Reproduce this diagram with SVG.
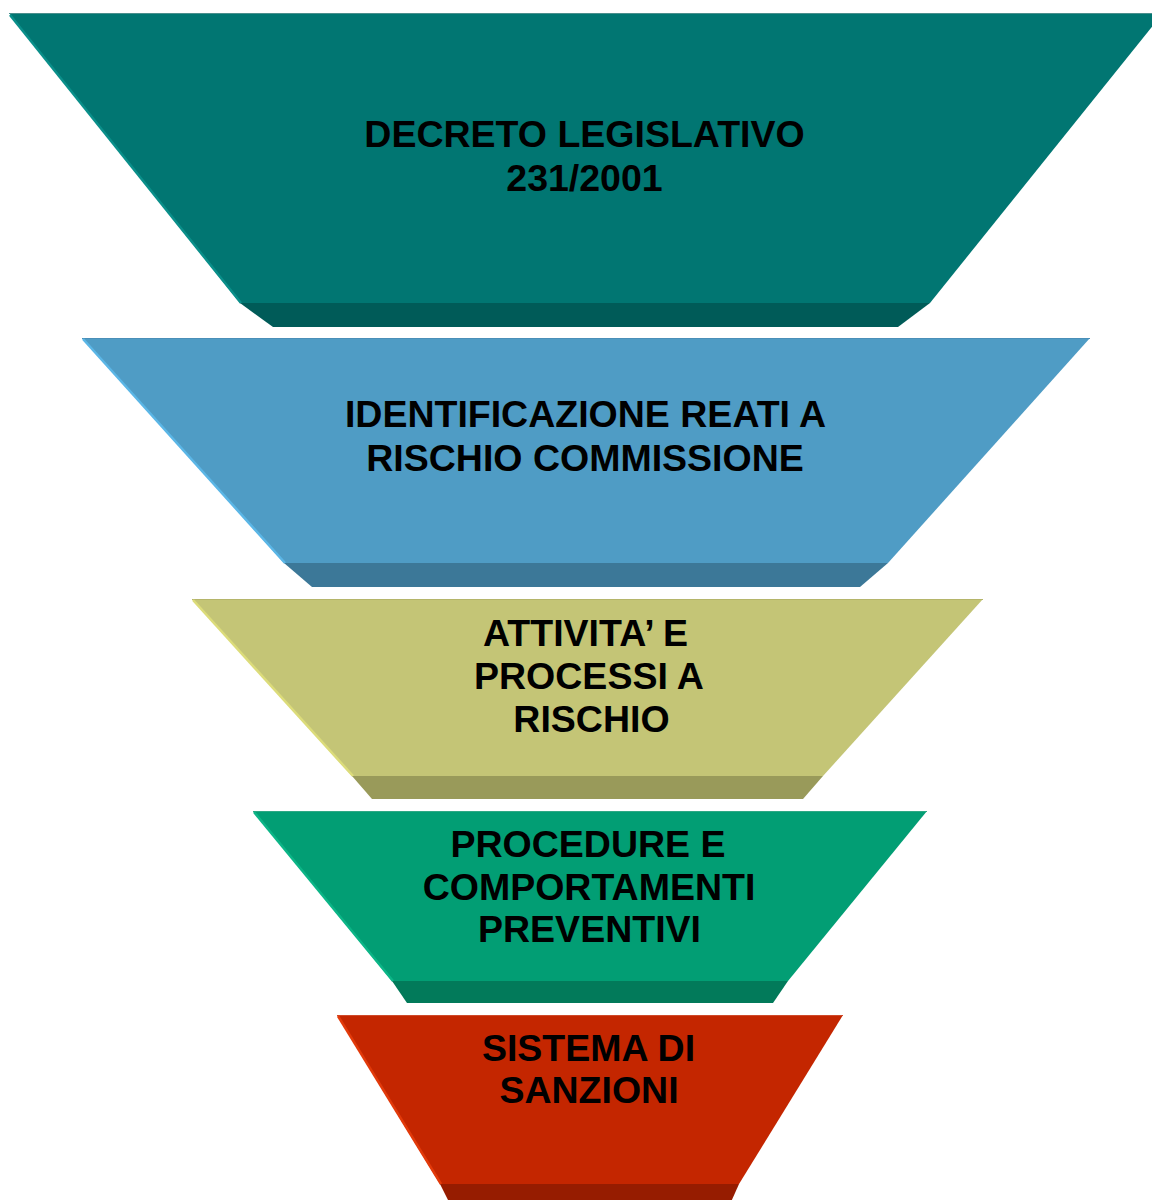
<svg xmlns="http://www.w3.org/2000/svg" width="1152" height="1200" viewBox="0 0 1152 1200">
<style>
.t{font-family:"Liberation Sans",Arial,sans-serif;font-weight:bold;font-size:37.5px;fill:#000;text-anchor:middle}
.edge{stroke-width:2.5;fill:none}
</style>
<rect width="1152" height="1200" fill="#fff"/>
<g id="connectors"></g>
<g id="n1">
<polygon points="9,13 1163,13 930,303 240,303" fill="#017672"/>
<line x1="9" y1="13.5" x2="1152" y2="13.5" stroke="#4a8f8d" stroke-width="1"/>
<line class="edge" x1="10" y1="15" x2="241" y2="303" stroke="#0a8f8a"/>
<polygon points="240,303 930,303 898,327 273,327" fill="#005b58"/>
<text class="t" x="584.5" y="147">DECRETO LEGISLATIVO</text>
<text class="t" x="584.5" y="191">231/2001</text>
</g>
<g id="n2">
<polygon points="82,338 1090,338 888,563 284,563" fill="#4f9cc5"/>
<line x1="82" y1="338.5" x2="1090" y2="338.5" stroke="#4a8fb8" stroke-width="1"/>
<line class="edge" x1="83" y1="339" x2="285" y2="563" stroke="#5bb6e6"/>
<polygon points="284,563 888,563 860,587 312,587" fill="#3c7898"/>
<text class="t" x="585.5" y="427">IDENTIFICAZIONE REATI A</text>
<text class="t" x="585" y="471">RISCHIO COMMISSIONE</text>
</g>
<g id="n3">
<polygon points="192,599 983,599 823,776 352,776" fill="#c4c576"/>
<line x1="192" y1="599.5" x2="983" y2="599.5" stroke="#b5b56a" stroke-width="1.2"/>
<line class="edge" x1="193" y1="600" x2="353" y2="776" stroke="#dcdc7a"/>
<polygon points="352,776 823,776 803,799 372,799" fill="#999a5a"/>
<text class="t" x="585.5" y="646">ATTIVITA’ E</text>
<text class="t" x="589" y="689">PROCESSI A</text>
<text class="t" x="591.5" y="732">RISCHIO</text>
</g>
<g id="n4">
<polygon points="253,811 927,811 788,981 392,981" fill="#029e74"/>
<line x1="253" y1="811.5" x2="927" y2="811.5" stroke="#2ea884" stroke-width="1"/>
<line class="edge" x1="254" y1="812" x2="393" y2="981" stroke="#0cb587"/>
<polygon points="392,981 788,981 773,1003 407,1003" fill="#027a5a"/>
<text class="t" x="588" y="857">PROCEDURE E</text>
<text class="t" x="589" y="900">COMPORTAMENTI</text>
<text class="t" x="589.5" y="942">PREVENTIVI</text>
</g>
<g id="n5">
<polygon points="337,1015 843,1015 739,1184 440,1184" fill="#c42600"/>
<line x1="337" y1="1015.5" x2="843" y2="1015.5" stroke="#cf4a2a" stroke-width="1"/>
<line class="edge" x1="338" y1="1016" x2="441" y2="1184" stroke="#e23a0a"/>
<polygon points="440,1184 739,1184 731,1202 449,1202" fill="#961c00"/>
<text class="t" x="588.5" y="1061">SISTEMA DI</text>
<text class="t" x="589" y="1103">SANZIONI</text>
</g>
</svg>
